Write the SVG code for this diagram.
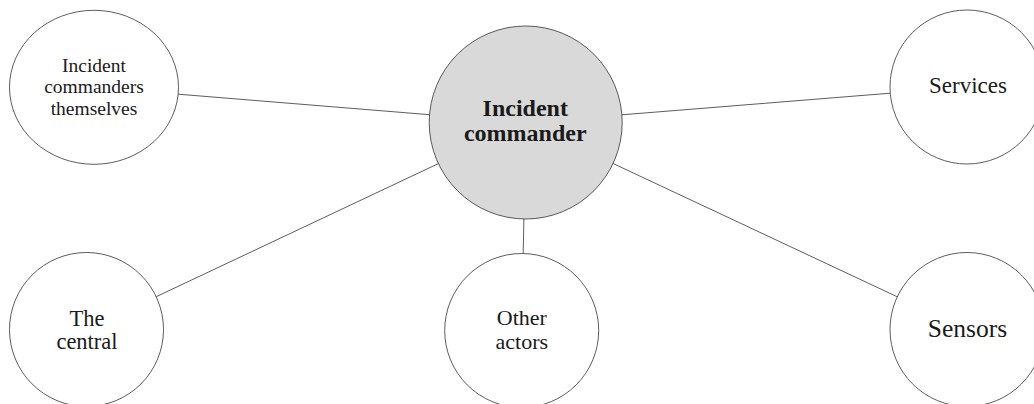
<svg xmlns="http://www.w3.org/2000/svg" width="1034" height="404" viewBox="0 0 1034 404">
  <style>
    .node { fill: #ffffff; stroke: #333333; stroke-width: 0.8; }
    .hub { fill: #d9d9d9; stroke: #333333; stroke-width: 0.8; }
    .edge { stroke: #333333; stroke-width: 0.8; fill: none; }
    text { font-family: "Liberation Serif", "DejaVu Serif", serif; fill: #1a1a1a; text-anchor: middle; }
    .bold { font-weight: bold; }
  </style>
  <rect width="1034" height="404" fill="#ffffff"/>

  <!-- connectors: hub to each actor, clipped at the shape outlines -->
  <g id="connectors">
    <line class="edge" x1="429.5" y1="114.7" x2="178.2" y2="94.2"/>
    <line class="edge" x1="621.9" y1="114.8" x2="890.3" y2="93.2"/>
    <line class="edge" x1="438.4" y1="163.6" x2="156.2" y2="296.7"/>
    <line class="edge" x1="523.9" y1="219" x2="523.2" y2="253.5"/>
    <line class="edge" x1="613.1" y1="163.5" x2="897.3" y2="296.8"/>
  </g>

  <g id="incident-commander">
    <circle class="hub" cx="525.7" cy="122.5" r="96.5"/>
    <text class="bold" font-size="24" x="525.3" y="116.2">Incident</text>
    <text class="bold" font-size="24" x="525.3" y="141.4">commander</text>
  </g>

  <g id="commanders-themselves">
    <ellipse class="node" cx="94" cy="87.3" rx="84.5" ry="77"/>
    <text font-size="19.5" x="94" y="71.5">Incident</text>
    <text font-size="19.5" x="94" y="93.3">commanders</text>
    <text font-size="19.5" x="94" y="115">themselves</text>
  </g>

  <g id="services">
    <circle class="node" cx="967" cy="87" r="77"/>
    <text font-size="23" x="968" y="93.3">Services</text>
  </g>

  <g id="the-central">
    <circle class="node" cx="86.5" cy="329.5" r="77"/>
    <text font-size="22.5" x="87" y="325.5">The</text>
    <text font-size="22.5" x="87" y="349.3">central</text>
  </g>

  <g id="other-actors">
    <circle class="node" cx="521.7" cy="330.5" r="77"/>
    <text font-size="22" x="521.8" y="325.2">Other</text>
    <text font-size="22" x="521.8" y="348.6">actors</text>
  </g>

  <g id="sensors">
    <circle class="node" cx="967" cy="329.5" r="77"/>
    <text font-size="25.5" x="967.5" y="337.3">Sensors</text>
  </g>
</svg>
